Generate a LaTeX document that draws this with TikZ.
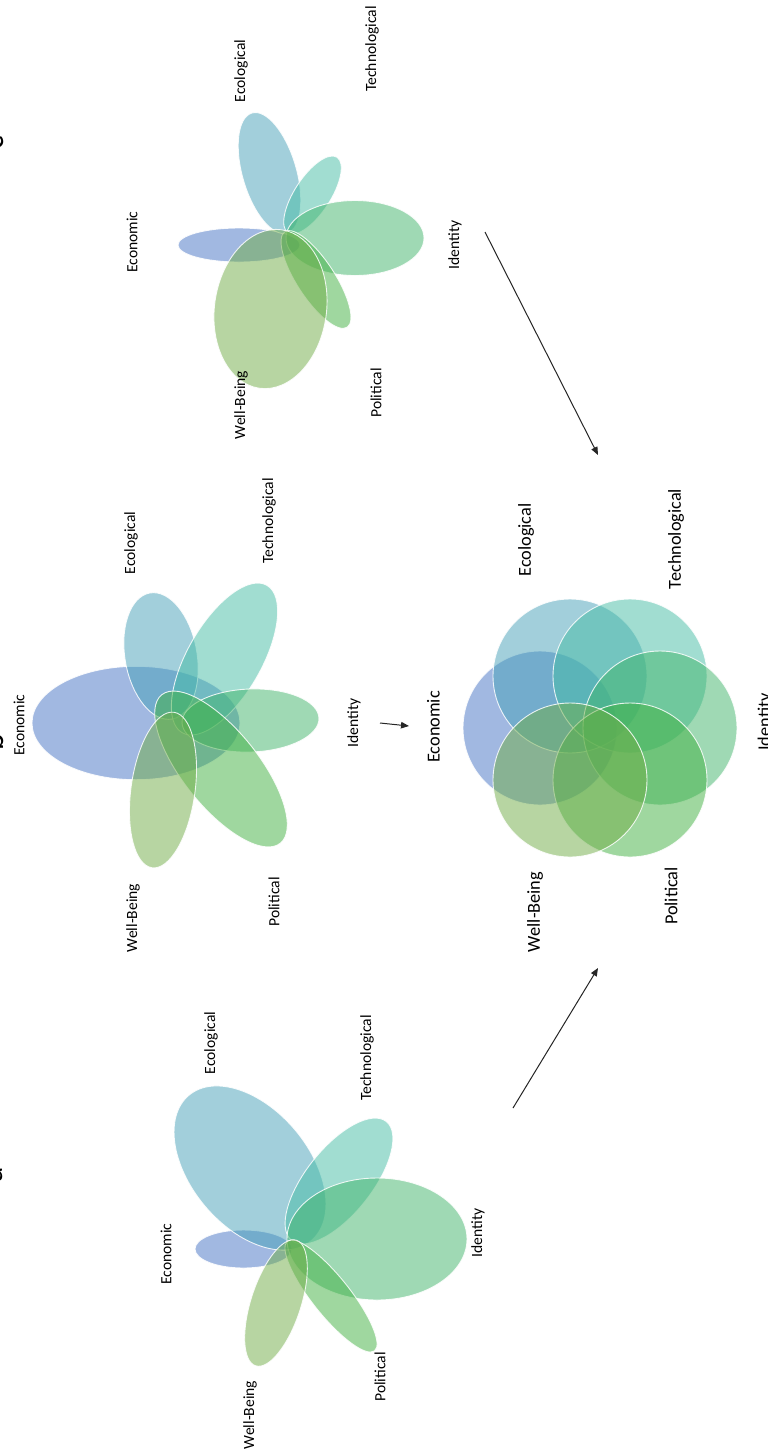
\documentclass[tikz,border=0pt]{standalone}
\usepackage{fontspec}
\setmainfont{Carlito}
\usetikzlibrary{arrows.meta}
\definecolor{cEcon}{HTML}{4472C4}
\definecolor{cEcol}{HTML}{47A1B9}
\definecolor{cTech}{HTML}{45BDA5}
\definecolor{cIden}{HTML}{41B56B}
\definecolor{cPoli}{HTML}{41B141}
\definecolor{cWell}{HTML}{70AD47}
\tikzset{
  petal/.style={fill=#1, fill opacity=0.5, draw=white, draw opacity=0.85, line width=0.9pt},
  lab/.style={rotate=90, inner sep=0pt, font=\fontsize{15.6}{18}\selectfont},
  biglab/.style={rotate=90, inner sep=0pt, font=\fontsize{18.3}{21}\selectfont},
  panelmark/.style={rotate=90, inner sep=0pt, anchor=base, font=\fontsize{32}{34}\selectfont},
  flow/.style={-{Triangle[length=8pt,width=6.5pt]}, line width=1pt, draw=black!85},
}
% \petalshape{cx}{cy}{a}{b}{angle}{colour}
\newcommand\petalshape[6]{\path[petal=#6, rotate around={#5:(#1,#2)}] (#1,#2) ellipse [x radius=#3, y radius=#4];}
\begin{document}
\begin{tikzpicture}[x=1pt,y=-1pt]
\useasboundingbox (0,0) rectangle (768,1452);
\clip (0,0) rectangle (768,1452);
\fill[white] (0,0) rectangle (768,1452);

% ---------- top panel ----------
\petalshape{239}{245}{61}{17}{0}{cEcon}
\petalshape{269.5}{173}{62.5}{27}{-73.7}{cEcol}
\petalshape{312.5}{195}{45}{18}{57}{cTech}
\petalshape{355}{238}{69}{37.5}{0}{cIden}
\petalshape{316}{279.5}{57}{19}{-56.9}{cPoli}
\petalshape{270.5}{309}{80}{56}{82}{cWell}
\node[lab] (t-ecol) at (241,71) {Ecological};
\node[lab] (t-tech) at (372,49) {Technological};
\node[lab] (t-econ) at (132,242) {Economic};
\node[lab] (t-iden) at (455,245) {Identity};
\node[lab] (t-well) at (241,405) {Well-Being};
\node[lab] (t-poli) at (376,393) {Political};

% ---------- middle panel ----------
\petalshape{136}{723}{104}{56.7}{0}{cEcon}
\petalshape{161}{656}{64}{36}{-80}{cEcol}
\petalshape{224.5}{659}{85}{37}{60.1}{cTech}
\petalshape{250.5}{720.5}{68.5}{31.5}{2}{cIden}
\petalshape{221}{769}{95}{38}{-51.4}{cPoli}
\petalshape{163}{790}{78.5}{32}{82}{cWell}
\node[lab] (m-econ) at (19,725) {Economic};
\node[lab] (m-ecol) at (131,543) {Ecological};
\node[lab] (m-tech) at (269,521) {Technological};
\node[lab] (m-iden) at (354,723) {Identity};
\node[lab] (m-well) at (133,918) {Well-Being};
\node[lab] (m-poli) at (274,902) {Political};

% ---------- bottom panel ----------
\petalshape{243.5}{1249}{48.5}{19}{0}{cEcon}
\petalshape{250}{1168}{95}{59}{-50}{cEcol}
\petalshape{339}{1181}{76}{33}{51.5}{cTech}
\petalshape{377}{1239}{90}{61}{0}{cIden}
\petalshape{331}{1296}{70}{19}{-51.5}{cPoli}
\petalshape{276}{1303}{66}{25}{72}{cWell}
\node[lab] (b-ecol) at (211,1043) {Ecological};
\node[lab] (b-tech) at (367,1058) {Technological};
\node[lab] (b-econ) at (166,1254) {Economic};
\node[lab] (b-iden) at (478,1233) {Identity};
\node[lab] (b-well) at (250,1415) {Well-Being};
\node[lab] (b-poli) at (380,1377) {Political};

% ---------- combined circles ----------
\petalshape{540}{728}{77}{77}{0}{cEcon}
\petalshape{570}{676}{77}{77}{0}{cEcol}
\petalshape{630}{676}{77}{77}{0}{cTech}
\petalshape{660}{728}{77}{77}{0}{cIden}
\petalshape{630}{780}{77}{77}{0}{cPoli}
\petalshape{570}{780}{77}{77}{0}{cWell}
\node[biglab] (c-econ) at (433.5,727) {Economic};
\node[biglab] (c-ecol) at (526,540) {Ecological};
\node[biglab] (c-tech) at (676,539) {Technological};
\node[biglab] (c-iden) at (765.5,722) {Identity};
\node[biglab] (c-well) at (535,912) {Well-Being};
\node[biglab] (c-poli) at (671,896) {Political};

% ---------- panel marks (cut by the page edge) ----------
\node[panelmark] (mark-c) at (4,143) {c};
\node[panelmark] (mark-b) at (4,742) {b};
\node[panelmark] (mark-a) at (2.5,1175) {a};

% ---------- arrows ----------
\coordinate (topS) at (485,232);
\coordinate (topE) at (598,455);
\coordinate (midS) at (380,723);
\coordinate (midE) at (409,726);
\coordinate (botS) at (513,1108);
\coordinate (botE) at (598,968);
\draw[flow] (topS) -- (topE);
\draw[flow] (midS) -- (midE);
\draw[flow] (botS) -- (botE);
\end{tikzpicture}
\end{document}
